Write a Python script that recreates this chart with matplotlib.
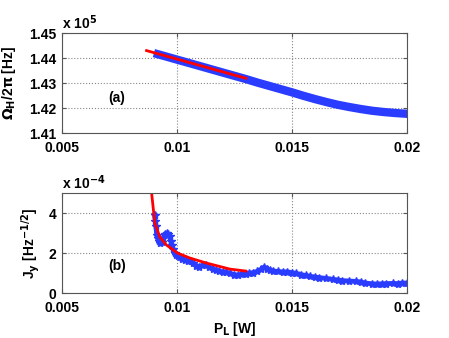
import matplotlib
matplotlib.use("Agg")
import matplotlib.pyplot as plt

plt.rcParams['font.family'] = ['Liberation Sans', 'DejaVu Sans']
plt.rcParams['font.weight'] = 'bold'
plt.rcParams['axes.labelweight'] = 'bold'
plt.rcParams['mathtext.default'] = 'bf'

# panel (a): frequency (units of 1e5 Hz) vs laser power
p_a = [0.0090, 0.0095, 0.0100, 0.0105, 0.0110, 0.0115, 0.0120, 0.0125, 0.0130, 0.0135,
       0.0140, 0.0145, 0.0150, 0.0155, 0.0160, 0.0165, 0.0170, 0.0175, 0.0180, 0.0185,
       0.0190, 0.0195, 0.0200, 0.0202]
omega_a = [1.4420, 1.4407, 1.4394, 1.4381, 1.4368, 1.4355, 1.4342, 1.4329, 1.4316, 1.4302,
           1.4289, 1.4276, 1.4263, 1.4249, 1.4236, 1.4224, 1.4213, 1.4204, 1.4196, 1.4189,
           1.4184, 1.4180, 1.4177, 1.4176]
p_fit_a = [0.00868, 0.0130]
omega_fit_a = [1.4430, 1.4319]

# panel (b): Jy (units of 1e-4) vs laser power
p_b = [0.00903, 0.00906, 0.00909, 0.00912, 0.00916, 0.00920, 0.00927, 0.00933, 0.00940,
       0.00947, 0.00955, 0.00962, 0.00968, 0.00974, 0.00978, 0.00983, 0.00990, 0.00998,
       0.01005, 0.01013, 0.01022, 0.01035, 0.01048, 0.01060, 0.01072, 0.01085, 0.01095,
       0.01110, 0.01125, 0.01140, 0.01155, 0.01170, 0.01185, 0.01200, 0.01215, 0.01230,
       0.01250, 0.01265, 0.01280, 0.01300, 0.01315, 0.01330, 0.01350, 0.01365, 0.01380,
       0.01392, 0.01405, 0.01420, 0.01440, 0.01460, 0.01480, 0.01500, 0.01520, 0.01540,
       0.01560, 0.01580, 0.01600, 0.01620, 0.01650, 0.01680, 0.01700, 0.01720, 0.01750,
       0.01780, 0.01800, 0.01820, 0.01850, 0.01870, 0.01890, 0.01910, 0.01940, 0.01960,
       0.01980, 0.02000, 0.02015]
jy_b = [3.9, 3.6, 3.35, 2.9, 2.75, 2.6, 2.5, 2.55, 2.75,
        2.95, 3.0, 2.95, 2.85, 2.6, 2.4, 2.2, 2.0, 1.9,
        1.85, 1.8, 1.72, 1.65, 1.6, 1.58, 1.5, 1.35, 1.3,
        1.38, 1.4, 1.3, 1.2, 1.15, 1.1, 1.05, 1.05, 0.98,
        0.92, 0.9, 0.93, 0.97, 1.0, 1.02, 1.08, 1.18, 1.3,
        1.22, 1.15, 1.1, 1.08, 1.05, 1.06, 1.02, 0.98, 0.92,
        0.88, 0.83, 0.8, 0.77, 0.73, 0.68, 0.65, 0.62, 0.6,
        0.58, 0.55, 0.5, 0.46, 0.45, 0.46, 0.47, 0.48, 0.47,
        0.5, 0.5, 0.52]
p_fit_b = [0.00890, 0.00904, 0.00926, 0.00955, 0.01003, 0.01057, 0.01129, 0.0123, 0.0130]
jy_fit_b = [5.0, 3.5, 2.8, 2.4, 2.0, 1.75, 1.5, 1.2, 1.1]

xticks = [0.005, 0.01, 0.015, 0.02]
xtick_labels = ['0.005', '0.01', '0.015', '0.02']
yticks_a = [1.41, 1.42, 1.43, 1.44, 1.45]
yticks_b = [0, 2, 4]

blue = '#2a3cff'

fig = plt.figure(figsize=(4.49, 3.38), dpi=100)
ax1 = fig.add_axes([0.138, 0.6065, 0.768, 0.2955])
ax2 = fig.add_axes([0.138, 0.133, 0.768, 0.2955])

ax1.plot(p_a, omega_a, color=blue, lw=6, solid_capstyle='butt')
ax1.plot(p_fit_a, omega_fit_a, color='red', lw=2)
ax1.set_ylim(1.41, 1.45)
ax1.set_yticks(yticks_a)
ax1.set_yticklabels(['%.2f' % v for v in yticks_a])
ax1.set_ylabel(r'$\Omega_H$/2$\pi$ [Hz]', fontsize=10)
ax1.yaxis.set_label_coords(-0.128, 0.5)
ax1.text(0.0074, 1.424, '(a)', fontsize=10, ha='center', va='center')
ax1.text(0.0, 1.015, r'x 10$^{5}$', transform=ax1.transAxes, fontsize=10, va='bottom')

ax2.plot(p_b, jy_b, color=blue, lw=3.5, marker='*', ms=6, mew=1)
ax2.plot(p_fit_b, jy_fit_b, color='red', lw=2)
ax2.set_ylim(0, 5)
ax2.set_yticks(yticks_b)
ax2.set_ylabel(r'J$_y$ [Hz$^{-1/2}$]', fontsize=10)
ax2.yaxis.set_label_coords(-0.058, 0.5)
ax2.set_xlabel(r'P$_L$ [W]', fontsize=10, labelpad=3)
ax2.text(0.0074, 1.35, '(b)', fontsize=10, ha='center', va='center')
ax2.text(0.0, 1.015, r'x 10$^{-4}$', transform=ax2.transAxes, fontsize=10, va='bottom')

for ax in (ax1, ax2):
    ax.set_xlim(0.005, 0.02)
    ax.set_xticks(xticks)
    ax.set_xticklabels(xtick_labels)
    ax.grid(True, linestyle=':', color='#888888', lw=0.8)
    ax.tick_params(direction='in', top=True, right=True, labelsize=10, length=3, color='#555555')
    ax.tick_params(axis='x', pad=6)
    ax.tick_params(axis='y', pad=4)
    for s in ax.spines.values():
        s.set_color('#555555')

fig.savefig('out.png', dpi=100)
